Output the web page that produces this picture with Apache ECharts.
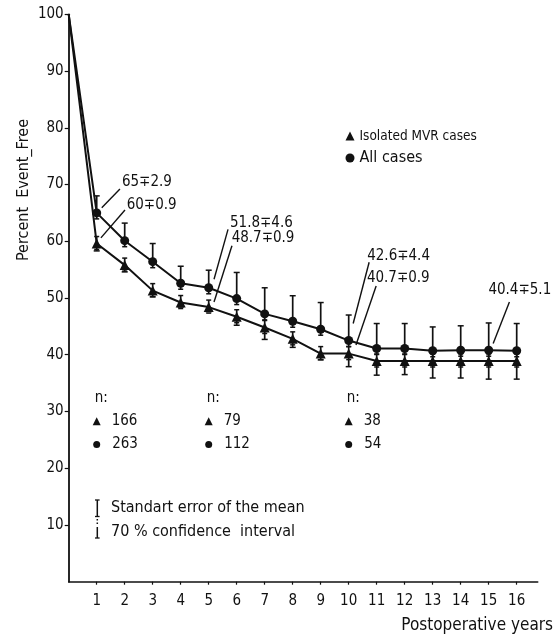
<!DOCTYPE html>
<html><head><meta charset="utf-8">
<script src="https://cdn.jsdelivr.net/npm/echarts@6/dist/echarts.min.js"></script>
<style>html,body{margin:0;padding:0;background:#fff}#c{width:560px;height:642px}</style>
</head><body><div id="c"></div>
<script>
// ---- data ----
const years        = [0, 1, 2, 3, 4, 5, 6, 7, 8, 9, 10, 11, 12, 13, 14, 15, 16];
const allCases     = [100, 65.0, 60.1, 56.4, 52.6, 51.8, 49.9, 47.2, 45.9, 44.5, 42.5, 41.1, 41.1, 40.7, 40.8, 40.8, 40.7];
const allUpper     = [null, 68.0, 63.2, 59.6, 55.6, 54.9, 54.5, 51.8, 50.4, 49.2, 47.0, 45.5, 45.5, 44.9, 45.1, 45.6, 45.5];
const mvrCases     = [100, 59.6, 55.8, 51.3, 49.2, 48.4, 46.7, 44.8, 42.8, 40.2, 40.2, 38.9, 38.9, 38.9, 38.9, 38.9, 38.9];
const mvrLower     = [null, 58.3, 54.6, 50.2, 48.4, 47.6, 45.2, 42.7, 41.3, 39.1, 37.9, 36.4, 36.5, 35.9, 35.9, 35.7, 35.7];
const xTicks       = [1, 2, 3, 4, 5, 6, 7, 8, 9, 10, 11, 12, 13, 14, 15, 16];
const yTicks       = [10, 20, 30, 40, 50, 60, 70, 80, 90, 100];
const nYears       = [1, 5, 10];
const nMvr         = [166, 79, 38];
const nAll         = [263, 112, 54];
const annotText    = ['65\u22132.9', '60\u22130.9', '51.8\u22134.6', '48.7\u22130.9', '42.6\u22134.4', '40.7\u22130.9', '40.4\u22135.1'];
// annotation anchor / leader positions, in data units (year, percent)
const annotPos     = [[1.90, 70.4], [2.07, 66.3], [5.76, 63.2], [5.82, 60.6], [10.66, 57.3], [10.65, 53.5], [14.99, 51.4]];
const leaderFrom   = [[1.18, 65.9], [1.15, 60.6], [5.19, 53.3], [5.19, 49.3], [10.16, 45.5], [10.26, 41.7], [15.16, 42.0]];
const leaderTo     = [[1.83, 69.2], [2.01, 65.5], [5.69, 62.1], [5.83, 59.2], [10.73, 56.3], [10.98, 52.1], [15.74, 49.3]];
const nRowY        = { head: 32.3, mvr: 28.3, all: 24.2 };

const FONT = '"DejaVu Sans Condensed","Liberation Sans Narrow","DejaVu Sans",sans-serif';
const INK = '#111';

const chart = echarts.init(document.getElementById('c'), null, { renderer: 'canvas' });

function cap(x, y, w) {
  return { type: 'line', shape: { x1: x - w, y1: y, x2: x + w, y2: y }, style: { stroke: INK, lineWidth: 1.5 } };
}

const allBarData = years.map((x, i) => [x, allCases[i], allUpper[i]]).filter(d => d[2] != null);
const mvrBarData = years.map((x, i) => [x, mvrCases[i], mvrLower[i]]).filter(d => d[2] != null);

const option = {
  animation: false,
  backgroundColor: '#fff',
  textStyle: { fontFamily: FONT, color: INK },
  grid: { left: 68.7, right: 22.3, top: 14.3, bottom: 60.3, containLabel: false, outerBoundsMode: 'none' },
  legend: {
    orient: 'vertical', left: 345.5, top: 128, padding: 0, itemGap: 6, itemWidth: 9, itemHeight: 9,
    selectedMode: false,
    data: [
      { name: 'Isolated MVR cases', icon: 'triangle', itemStyle: { color: INK }, textStyle: { fontSize: 13.5, fontFamily: FONT, color: INK, lineHeight: 16 } },
      { name: 'All cases', icon: 'circle', itemStyle: { color: INK }, textStyle: { fontSize: 16, fontFamily: FONT, color: INK, lineHeight: 16 } }
    ]
  },
  xAxis: {
    type: 'value', min: 0, max: 16.75, interval: 1,
    axisLine: { show: true, onZero: false, lineStyle: { color: INK, width: 1.6 } },
    axisTick: { show: true, length: 3, customValues: xTicks, lineStyle: { color: INK, width: 1.2 } },
    axisLabel: { customValues: xTicks, margin: 12, fontSize: 15, color: INK, fontFamily: FONT },
    splitLine: { show: false }
  },
  yAxis: {
    type: 'value', min: 0, max: 100, interval: 10,
    axisLine: { show: true, onZero: false, lineStyle: { color: INK, width: 1.8 } },
    axisTick: { show: true, length: 4, customValues: yTicks, lineStyle: { color: INK, width: 1.2 } },
    axisLabel: { customValues: yTicks, margin: 5, fontSize: 15, color: INK, fontFamily: FONT },
    splitLine: { show: false }
  },
  series: [
    {
      name: 'All cases', type: 'line', z: 3,
      data: years.map((x, i) => i === 0 ? { value: [x, allCases[i]], symbol: 'none' } : [x, allCases[i]]),
      symbol: 'circle', symbolSize: 9, showAllSymbol: true,
      itemStyle: { color: INK }, lineStyle: { color: INK, width: 2 }
    },
    {
      name: 'Isolated MVR cases', type: 'line', z: 3,
      data: years.map((x, i) => i === 0 ? { value: [x, mvrCases[i]], symbol: 'none' } : [x, mvrCases[i]]),
      symbol: 'triangle', symbolSize: 10, showAllSymbol: true,
      itemStyle: { color: INK }, lineStyle: { color: INK, width: 2 }
    },
    {
      type: 'custom', name: 'allBars', z: 2, data: allBarData,
      renderItem: (params, api) => {
        const p = api.coord([api.value(0), api.value(1)]);
        const t = api.coord([api.value(0), api.value(2)]);
        return { type: 'group', children: [
          { type: 'line', shape: { x1: p[0], y1: p[1] + 6, x2: t[0], y2: t[1] }, style: { stroke: INK, lineWidth: 1.7 } },
          cap(t[0], t[1], 3), cap(p[0], p[1] + 6, 2.5)
        ]};
      }
    },
    {
      type: 'custom', name: 'mvrBars', z: 2, data: mvrBarData,
      renderItem: (params, api) => {
        const p = api.coord([api.value(0), api.value(1)]);
        const b = api.coord([api.value(0), api.value(2)]);
        return { type: 'group', children: [
          { type: 'line', shape: { x1: p[0], y1: p[1] - 7, x2: b[0], y2: b[1] }, style: { stroke: INK, lineWidth: 1.7 } },
          cap(b[0], b[1], 3), cap(p[0], p[1] - 7, 2.5), cap(p[0], p[1] + 6, 2.5)
        ]};
      }
    },
    {
      type: 'custom', name: 'leaders', z: 4, data: leaderFrom.map((f, i) => [f[0], f[1], leaderTo[i][0], leaderTo[i][1]]),
      renderItem: (params, api) => {
        const a = api.coord([api.value(0), api.value(1)]);
        const b = api.coord([api.value(2), api.value(3)]);
        return { type: 'line', shape: { x1: a[0], y1: a[1], x2: b[0], y2: b[1] }, style: { stroke: INK, lineWidth: 1.4 } };
      }
    },
    {
      type: 'custom', name: 'annotations', z: 5, data: annotPos,
      renderItem: (params, api) => {
        const a = api.coord([api.value(0), api.value(1)]);
        return { type: 'text', x: a[0], y: a[1], style: { text: annotText[params.dataIndex], fill: INK, font: '15px ' + FONT, textAlign: 'left', textVerticalAlign: 'middle' } };
      }
    },
    {
      type: 'custom', name: 'nHead', z: 5, data: nYears.map(x => [x, nRowY.head]),
      renderItem: (params, api) => {
        const a = api.coord([api.value(0), api.value(1)]);
        return { type: 'text', x: a[0] - 2, y: a[1], style: { text: 'n:', fill: INK, font: '15px ' + FONT, textAlign: 'left', textVerticalAlign: 'middle' } };
      }
    },
    {
      type: 'scatter', name: 'nMvr', z: 5, symbol: 'triangle', symbolSize: 8,
      data: nYears.map(x => [x, nRowY.mvr]), itemStyle: { color: INK, opacity: 1 },
      label: { show: true, position: 'right', distance: 11, fontSize: 15, fontFamily: FONT, color: INK, opacity: 1, formatter: p => String(nMvr[p.dataIndex]) }
    },
    {
      type: 'scatter', name: 'nAll', z: 5, symbol: 'circle', symbolSize: 7,
      data: nYears.map(x => [x, nRowY.all]), itemStyle: { color: INK, opacity: 1 },
      label: { show: true, position: 'right', distance: 12, fontSize: 15, fontFamily: FONT, color: INK, opacity: 1, formatter: p => String(nAll[p.dataIndex]) }
    }
  ],
  graphic: [
    { type: 'text', x: 24, y: 190, rotation: Math.PI / 2, style: { text: 'Percent  Event_Free', fill: INK, font: '16px ' + FONT, textAlign: 'center', textVerticalAlign: 'middle' } },
    { type: 'text', right: 7, top: 617, style: { text: 'Postoperative years', fill: INK, font: '17px ' + FONT } },
    // key for error bars
    { type: 'line', shape: { x1: 97.3, y1: 500, x2: 97.3, y2: 516.5 }, style: { stroke: INK, lineWidth: 1.5 } },
    { type: 'line', shape: { x1: 95, y1: 500, x2: 99.6, y2: 500 }, style: { stroke: INK, lineWidth: 1.3 } },
    { type: 'line', shape: { x1: 95, y1: 516.5, x2: 99.6, y2: 516.5 }, style: { stroke: INK, lineWidth: 1.3 } },
    { type: 'line', shape: { x1: 97.3, y1: 519, x2: 97.3, y2: 526 }, style: { stroke: INK, lineWidth: 1.5, lineDash: [1.5, 2] } },
    { type: 'line', shape: { x1: 97.3, y1: 527, x2: 97.3, y2: 538 }, style: { stroke: INK, lineWidth: 1.5 } },
    { type: 'line', shape: { x1: 95, y1: 538, x2: 99.6, y2: 538 }, style: { stroke: INK, lineWidth: 1.3 } },
    { type: 'text', x: 111, y: 508.3, style: { text: 'Standart error of the mean', fill: INK, font: '16px ' + FONT, textVerticalAlign: 'middle' } },
    { type: 'text', x: 111, y: 531.7, style: { text: '70 % confidence  interval', fill: INK, font: '16px ' + FONT, textVerticalAlign: 'middle' } }
  ]
};
chart.setOption(option);
</script>
</body></html>
